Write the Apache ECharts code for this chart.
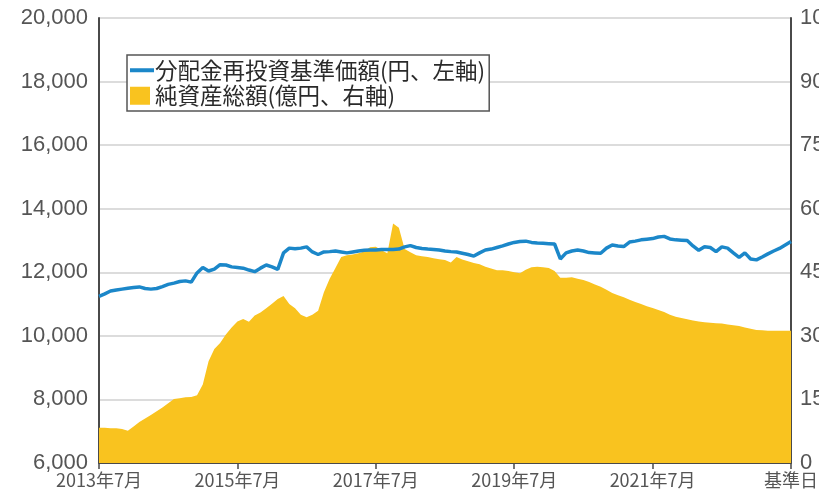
<!DOCTYPE html>
<html><head><meta charset="utf-8">
<script src="https://cdn.jsdelivr.net/npm/echarts@6/dist/echarts.min.js"></script>
<style>html,body{margin:0;padding:0;background:#fff;overflow:hidden}#c{position:absolute;left:0;top:0;width:819px;height:501px}</style>
</head><body><div id="c"></div>
<script>
// Monthly points 2013-07 .. 2023-07 (基準日)
const months = [];
for (let i = 0; i <= 120; i++) { const t = 2013*12 + 6 + i; months.push(Math.floor(t/12) + '-' + String(t%12+1).padStart(2,'0')); }
const tickLabels = ['2013年7月','2015年7月','2017年7月','2019年7月','2021年7月','基準日'];
const navValues = [11240,11320,11410,11440,11470,11500,11520,11540,11490,11470,11490,11550,11620,11660,11710,11730,11690,11980,12150,12040,12100,12240,12230,12170,12150,12130,12070,12020,12130,12230,12170,12090,12610,12760,12740,12760,12800,12640,12560,12640,12650,12670,12640,12610,12640,12670,12690,12700,12700,12720,12720,12720,12730,12800,12840,12780,12750,12730,12720,12700,12670,12650,12640,12600,12560,12510,12610,12700,12730,12780,12830,12890,12940,12970,12980,12940,12920,12910,12900,12890,12420,12610,12670,12700,12670,12620,12610,12600,12760,12860,12830,12810,12950,12980,13020,13040,13060,13110,13130,13050,13020,13010,13000,12830,12690,12800,12780,12650,12800,12760,12610,12470,12610,12420,12390,12480,12580,12670,12750,12860,12970];
const assetValues = [8.3,8.3,8.2,8.2,8.0,7.6,8.6,9.7,10.5,11.3,12.2,13.1,14.1,15.1,15.3,15.5,15.6,16.0,18.5,24.0,26.9,28.3,30.3,32.0,33.4,34.0,33.3,34.8,35.5,36.5,37.6,38.7,39.4,37.5,36.5,35.0,34.4,35.0,35.9,40.3,43.5,46.0,48.6,49.0,49.2,49.5,49.9,50.9,51.0,50.2,49.5,56.5,55.5,50.5,49.7,49.0,48.8,48.6,48.3,48.1,47.9,47.3,48.6,48.0,47.6,47.2,46.9,46.3,45.9,45.5,45.5,45.3,45.0,44.8,45.6,46.2,46.3,46.2,46.0,45.3,43.7,43.7,43.8,43.5,43.2,42.7,42.1,41.6,40.9,40.1,39.6,39.1,38.5,38.0,37.5,37.0,36.6,36.1,35.6,35.0,34.5,34.2,33.9,33.6,33.4,33.2,33.1,33.0,32.9,32.7,32.5,32.3,32.0,31.7,31.4,31.3,31.2,31.2,31.2,31.2,31.2];
const seriesNames = ['分配金再投資基準価額(円、左軸)','純資産総額(億円、右軸)'];

const chart = echarts.init(document.getElementById('c'), null, {renderer:'canvas', width: 819, height: 501});
const axisColor = '#4a4a4a';
const labelColor = '#555';
const lineIcon = 'path://M0,0h0.01v0.01h-0.01z M0,7h24v4h-24z M23.99,17.99h0.01v0.01h-0.01z';
chart.setOption({
  animation: false,
  grid: {left: 99, right: 28, top: 18, bottom: 38, containLabel: false, outerBoundsMode: 'none'},
  legend: {
    orient: 'vertical', left: 127, top: 55,
    padding: [4, 4, 4, 3], itemGap: 3,
    borderColor: '#555', borderWidth: 1.5, backgroundColor: '#fff',
    itemWidth: 24, itemHeight: 18,
    textStyle: {fontSize: 22.5, color: '#2a2a2a', fontFamily: 'Noto Sans CJK JP', padding: [0,0,0,-4]},
    data: [{name: seriesNames[0], icon: lineIcon}, {name: seriesNames[1], icon: 'path://M0,0h20v18h-20z M23.99,17.99h0.01v0.01h-0.01z'}]
  },
  xAxis: {
    type: 'category', data: months, boundaryGap: false,
    axisLine: {show: true, lineStyle: {color: axisColor, width: 2}},
    axisTick: {show: true, interval: 23, length: 6, lineStyle: {color: axisColor, width: 1.5}},
    axisLabel: {interval: 23, color: labelColor, fontSize: 18, margin: 8, fontFamily: 'Noto Sans CJK JP',
      formatter: (v, i) => tickLabels[Math.round(i/24)]},
    splitLine: {show: false}
  },
  yAxis: [
    {type: 'value', min: 6000, max: 20000, interval: 2000,
     axisLine: {show: true, lineStyle: {color: axisColor, width: 2}},
     axisTick: {show: false},
     axisLabel: {color: labelColor, fontSize: 22, margin: 11, fontFamily: 'Liberation Sans',
       formatter: v => v.toString().replace(/\B(?=(\d{3})+(?!\d))/g, ',')},
     splitLine: {show: true, lineStyle: {color: '#dcdcdc', width: 2}}},
    {type: 'value', min: 0, max: 105, interval: 15,
     axisLine: {show: true, lineStyle: {color: axisColor, width: 2}},
     axisTick: {show: false},
     axisLabel: {color: labelColor, fontSize: 22, margin: 9, fontFamily: 'Liberation Sans'},
     splitLine: {show: false}}
  ],
  series: [
    {name: seriesNames[1], type: 'line', yAxisIndex: 1, data: assetValues,
     symbol: 'none', color: '#F9C31F', lineStyle: {width: 0}, areaStyle: {color: '#F9C31F', opacity: 1}, z: 2},
    {name: seriesNames[0], type: 'line', yAxisIndex: 0, data: navValues,
     symbol: 'none', color: '#1B87C9', lineStyle: {width: 3.5, color: '#1B87C9'}, z: 3}
  ]
});
</script></body></html>
